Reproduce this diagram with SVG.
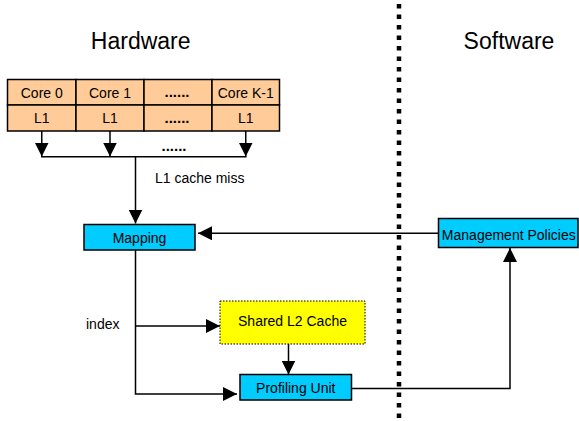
<svg xmlns="http://www.w3.org/2000/svg" width="579" height="421" viewBox="0 0 579 421">
<style>
text{font-family:"Liberation Sans",Arial,sans-serif;font-size:14px;fill:#000}
.title{font-size:23px}
.dots{font-weight:bold;font-size:15px}
.cell{fill:#FFCC99;stroke:#000;stroke-width:1.5}
.box{fill:#00CCFF;stroke:#000;stroke-width:1.5}
.l2{fill:#FFFF00;stroke:#000;stroke-width:1;stroke-dasharray:1.5 1.5}
.wire{fill:none;stroke:#000;stroke-width:1.5}
.sep{fill:none;stroke:#000;stroke-width:4.5;stroke-dasharray:4.5 6}
</style>
<defs>
<marker id="arr" markerUnits="userSpaceOnUse" markerWidth="15" markerHeight="14" refX="14" refY="7" orient="auto">
<path d="M0,0 L14,7 L0,14 Z" fill="#000"/>
</marker>
</defs>
<rect width="579" height="421" fill="#fff"/>
<text class="title" x="140.7" y="49.3" text-anchor="middle">Hardware</text>
<text class="title" x="509" y="49.3" text-anchor="middle">Software</text>
<line class="sep" x1="399" y1="4" x2="399" y2="421"/>
<g id="cores">
<rect class="cell" x="7.5" y="79.5" width="68.5" height="25.5"/>
<rect class="cell" x="76" y="79.5" width="68" height="25.5"/>
<rect class="cell" x="144" y="79.5" width="68" height="25.5"/>
<rect class="cell" x="212" y="79.5" width="67.5" height="25.5"/>
<rect class="cell" x="7.5" y="105" width="68.5" height="26"/>
<rect class="cell" x="76" y="105" width="68" height="26"/>
<rect class="cell" x="144" y="105" width="68" height="26"/>
<rect class="cell" x="212" y="105" width="67.5" height="26"/>
<text x="41.75" y="97.5" text-anchor="middle">Core 0</text>
<text x="110" y="97.5" text-anchor="middle">Core 1</text>
<text class="dots" x="177" y="97" text-anchor="middle">......</text>
<text x="245.75" y="97.5" text-anchor="middle">Core K-1</text>
<text x="41.75" y="123.3" text-anchor="middle">L1</text>
<text x="110" y="123.3" text-anchor="middle">L1</text>
<text class="dots" x="177" y="123" text-anchor="middle">......</text>
<text x="245.75" y="123.3" text-anchor="middle">L1</text>
</g>
<g id="mapping">
<rect class="box" x="84" y="224.5" width="111" height="25.5"/>
<text x="139.5" y="242.8" text-anchor="middle">Mapping</text>
</g>
<g id="l2cache">
<rect class="l2" x="220" y="301" width="145" height="43"/>
<text x="292.5" y="325.5" text-anchor="middle">Shared L2 Cache</text>
</g>
<g id="profiling">
<rect class="box" x="240" y="374.5" width="111.5" height="25.5"/>
<text x="295.8" y="393" text-anchor="middle">Profiling Unit</text>
</g>
<g id="policies">
<rect class="box" x="438.5" y="218.5" width="139.5" height="29"/>
<text x="508.8" y="240" text-anchor="middle">Management Policies</text>
</g>
<g id="connectors">
<line class="wire" x1="41.75" y1="131" x2="41.75" y2="156.5" marker-end="url(#arr)"/>
<line class="wire" x1="110" y1="131" x2="110" y2="156.5" marker-end="url(#arr)"/>
<line class="wire" x1="245.75" y1="131" x2="245.75" y2="156.5" marker-end="url(#arr)"/>
<line class="wire" x1="41" y1="156.75" x2="246.5" y2="156.75"/>
<text class="dots" x="174" y="151" text-anchor="middle">......</text>
<line class="wire" x1="135.5" y1="156.75" x2="135.5" y2="223.5" marker-end="url(#arr)"/>
<text x="155" y="183">L1 cache miss</text>
<line class="wire" x1="438.5" y1="233.3" x2="198" y2="233.3" marker-end="url(#arr)"/>
<polyline class="wire" points="135.5,250 135.5,394 237,394" marker-end="url(#arr)"/>
<line class="wire" x1="135.5" y1="326" x2="220" y2="326" marker-end="url(#arr)"/>
<text x="86" y="329">index</text>
<line class="wire" x1="288.5" y1="344" x2="288.5" y2="374.5" marker-end="url(#arr)"/>
<polyline class="wire" points="351.5,388.5 510,388.5 510,248" marker-end="url(#arr)"/>
</g>
</svg>
